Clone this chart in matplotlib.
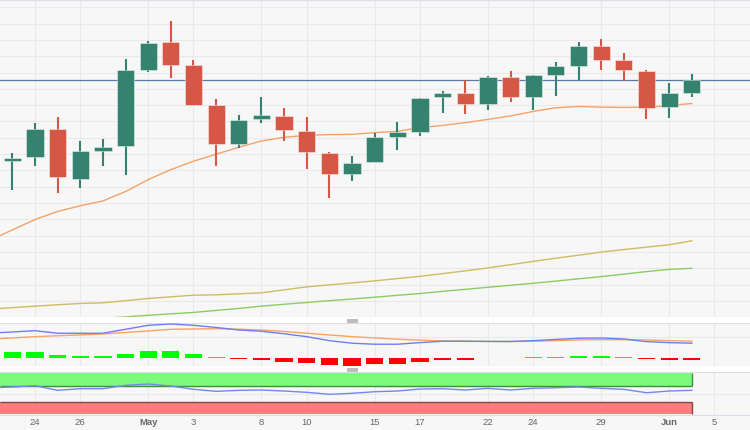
import matplotlib
matplotlib.use("Agg")
import matplotlib.pyplot as plt
from matplotlib.patches import Rectangle
import numpy as np

plt.rcParams["font.family"] = ["Liberation Sans", "DejaVu Sans"]

# daily candles, Apr 21 -> Jun 2 (one entry per trading day)
openPrices  = [138.377, 138.427, 138.707, 138.200, 138.487, 138.533, 139.300, 139.573, 139.343, 138.940, 138.557,
               138.800, 138.837, 138.683, 138.463, 138.250, 138.367, 138.627, 138.677, 139.027, 139.070,
               138.957, 139.227, 139.027, 139.247, 139.340, 139.540, 139.397, 139.290, 138.927, 139.067]
highPrices  = [138.467, 138.767, 138.823, 138.583, 138.607, 139.407, 139.587, 139.793, 139.393, 139.007, 138.847,
               139.027, 138.913, 138.827, 138.473, 138.437, 138.667, 138.777, 139.020, 139.087, 139.200,
               139.240, 139.287, 139.243, 139.373, 139.573, 139.613, 139.467, 139.300, 139.163, 139.257]
lowPrices   = [138.093, 138.333, 138.057, 138.110, 138.333, 138.240, 139.280, 139.217, 138.947, 138.333, 138.517,
               138.767, 138.580, 138.300, 138.007, 138.177, 138.367, 138.493, 138.637, 138.867, 138.850,
               138.893, 138.977, 138.893, 139.040, 139.200, 139.300, 139.187, 138.807, 138.817, 139.023]
closePrices = [138.417, 138.707, 138.217, 138.480, 138.523, 139.293, 139.567, 139.350, 138.947, 138.557, 138.797,
               138.840, 138.697, 138.473, 138.250, 138.360, 138.627, 138.670, 139.017, 139.070, 138.957,
               139.227, 139.027, 139.243, 139.340, 139.540, 139.397, 139.293, 138.917, 139.063, 139.200]

# moving averages, first value is the day before the first candle (Apr 20)
ma20 = [137.585, 137.689, 137.793, 137.875, 137.932, 137.980, 138.075, 138.195, 138.295, 138.380, 138.450,
        138.520, 138.583, 138.620, 138.640, 138.647, 138.650, 138.667, 138.680, 138.717, 138.740,
        138.767, 138.800, 138.835, 138.880, 138.917, 138.930, 138.923, 138.920, 138.923, 138.940, 138.960]
ma50 = [136.893, 136.908, 136.923, 136.937, 136.950, 136.957, 136.978, 137.000, 137.017, 137.033, 137.037,
        137.047, 137.057, 137.087, 137.117, 137.137, 137.157, 137.177, 137.200, 137.223, 137.250,
        137.278, 137.307, 137.340, 137.373, 137.405, 137.435, 137.467, 137.492, 137.516, 137.540, 137.580]
# 100-day average, starts at Apr 27 (below the visible range at first)
ma100 = [136.800, 136.815, 136.831, 136.846, 136.860, 136.880, 136.900, 136.923, 136.942, 136.960, 136.978,
         136.995, 137.013, 137.032, 137.050, 137.072, 137.092, 137.113, 137.133, 137.153, 137.175,
         137.198, 137.220, 137.245, 137.270, 137.293, 137.303]
ma100Start = 4

macdLine = [0.245, 0.257, 0.270, 0.244, 0.244, 0.244, 0.284, 0.324, 0.337, 0.324, 0.302,
            0.277, 0.264, 0.239, 0.210, 0.170, 0.144, 0.134, 0.134, 0.150, 0.164,
            0.164, 0.162, 0.162, 0.170, 0.182, 0.194, 0.197, 0.187, 0.160, 0.150, 0.144]
signalLine = [0.184, 0.197, 0.210, 0.219, 0.227, 0.237, 0.252, 0.267, 0.284, 0.287, 0.290,
              0.285, 0.277, 0.262, 0.244, 0.227, 0.210, 0.197, 0.184, 0.175, 0.167,
              0.164, 0.162, 0.160, 0.164, 0.170, 0.177, 0.180, 0.179, 0.177, 0.170, 0.164]
macdHist = [0.053, 0.053, 0.027, 0.020, 0.013, 0.040, 0.063, 0.063, 0.040, 0.005, -0.013,
            -0.023, -0.040, -0.057, -0.073, -0.083, -0.067, -0.060, -0.040, -0.023, -0.020,
            -0.007, -0.005, 0.003, 0.010, 0.020, 0.020, 0.007, -0.013, -0.023, -0.023]

rsiValues = [64.4, 66.3, 69.5, 58.2, 62.2, 62.2, 70.5, 73.7, 68.8, 60.7, 55.8,
             58.2, 59.0, 56.5, 53.3, 48.4, 50.9, 54.8, 56.5, 61.4, 62.2,
             59.0, 63.1, 59.0, 63.1, 64.6, 66.3, 63.1, 60.7, 52.3, 56.5, 58.2]

tickLabels = ["24", "26", "May", "3", "8", "10", "15", "17", "22", "24", "29", "Jun", "5"]
tickDays = [1, 3, 6, 8, 11, 13, 16, 18, 21, 23, 26, 29, 31]

GREEN = "#35836f"
RED = "#d65746"
GRID = "#e9e9ec"
BG = "#f7f7f7"
XLIM = (-0.543, 32.57)


def styleAxes(ax):
    ax.set_facecolor(BG)
    ax.set_xlim(*XLIM)
    for side in ["left", "right"]:
        ax.spines[side].set_visible(False)
    for side in ["top", "bottom"]:
        ax.spines[side].set_color("#dcdde8")
        ax.spines[side].set_linewidth(0.8)
    ax.set_xticks(tickDays)
    ax.grid(True, color=GRID, linewidth=0.8)
    ax.set_axisbelow(True)
    ax.tick_params(length=0, labelleft=False, labelbottom=False)


fig = plt.figure(figsize=(7.5, 4.3), dpi=100, facecolor=BG)
axMain = fig.add_axes([0, 0.2621, 1, 0.7379])
axMacd = fig.add_axes([0, 0.1488, 1, 0.0993])
axRsi = fig.add_axes([0, 0.0360, 1, 0.0982])
for a in [axMain, axMacd, axRsi]:
    styleAxes(a)

# white separators and drag handles between panels
for bottom, height in [(0.2481, 0.0140), (0.1342, 0.0146)]:
    fig.patches.append(Rectangle((0, bottom), 1, height, transform=fig.transFigure,
                                 facecolor="white", edgecolor="none", zorder=0))
for bottom in [0.2495, 0.1360]:
    fig.patches.append(Rectangle((0.4627, bottom), 0.0147, 0.0084, transform=fig.transFigure,
                                 facecolor="#bdbdbd", edgecolor="none", zorder=2))

# ---- price panel
days = np.arange(len(closePrices))
lineDays = np.arange(-1, len(closePrices))
axMain.set_ylim(136.827, 140.0)
axMain.set_yticks(np.arange(139.927, 136.8, -0.164))

axMain.plot(lineDays, ma50, color="#cdbd62", linewidth=1.0)
axMain.plot(np.arange(ma100Start, ma100Start + len(ma100)), ma100, color="#8ccd62", linewidth=1.0)
axMain.plot(lineDays, ma20, color="#f4a268", linewidth=1.0)
axMain.axhline(closePrices[-1], color="#5a7ba3", linewidth=0.9)

for i in days:
    o, h, l, c = openPrices[i], highPrices[i], lowPrices[i], closePrices[i]
    col = GREEN if c >= o else RED
    axMain.vlines(i, l, h, color=col, linewidth=1.5, zorder=3)
    axMain.bar(i, abs(c - o), bottom=min(o, c), width=0.76, color=col,
               edgecolor="#ffffff80", linewidth=0.6, zorder=4)

# ---- MACD panel
axMacd.set_ylim(-0.085, 0.344)
axMacd.set_yticks([0.21])
histColors = ["#00ff00" if v >= 0 else "#ff0000" for v in macdHist]
axMacd.bar(days, macdHist, width=0.76, color=histColors, zorder=3)
axMacd.plot(lineDays, signalLine, color="#f7a465", linewidth=1.0, zorder=4)
axMacd.plot(lineDays, macdLine, color="#6f7ef3", linewidth=1.0, zorder=4)

# ---- RSI panel
axRsi.set_ylim(-1.2, 102.5)
axRsi.set_yticks([50])
axRsi.fill_between([XLIM[0], days[-1]], 70, 100, color="#7bfa7b", linewidth=0, zorder=2)
axRsi.fill_between([XLIM[0], days[-1]], 0, 30, color="#fa7e7e", linewidth=0, zorder=2)
axRsi.hlines(70, XLIM[0], days[-1], color="#3f8f3f", linewidth=1.0, zorder=2)
axRsi.hlines(30, XLIM[0], days[-1], color="#8a4545", linewidth=1.0, zorder=2)
axRsi.vlines(days[-1], 70, 100, color="#3f8f3f", linewidth=1.0, zorder=2)
axRsi.vlines(days[-1], 0, 30, color="#8a4545", linewidth=1.0, zorder=2)
axRsi.plot(lineDays, rsiValues, color="#7486ef", linewidth=1.0, zorder=3)

axRsi.set_xticks(tickDays)
axRsi.set_xticklabels(tickLabels)
axRsi.tick_params(labelbottom=True, pad=2.5, labelsize=6.8, labelcolor="#666666")
for lab in axRsi.get_xticklabels():
    if lab.get_text() in ("May", "Jun"):
        lab.set_fontweight("bold")

fig.savefig("out.png", dpi=100, facecolor=BG)
